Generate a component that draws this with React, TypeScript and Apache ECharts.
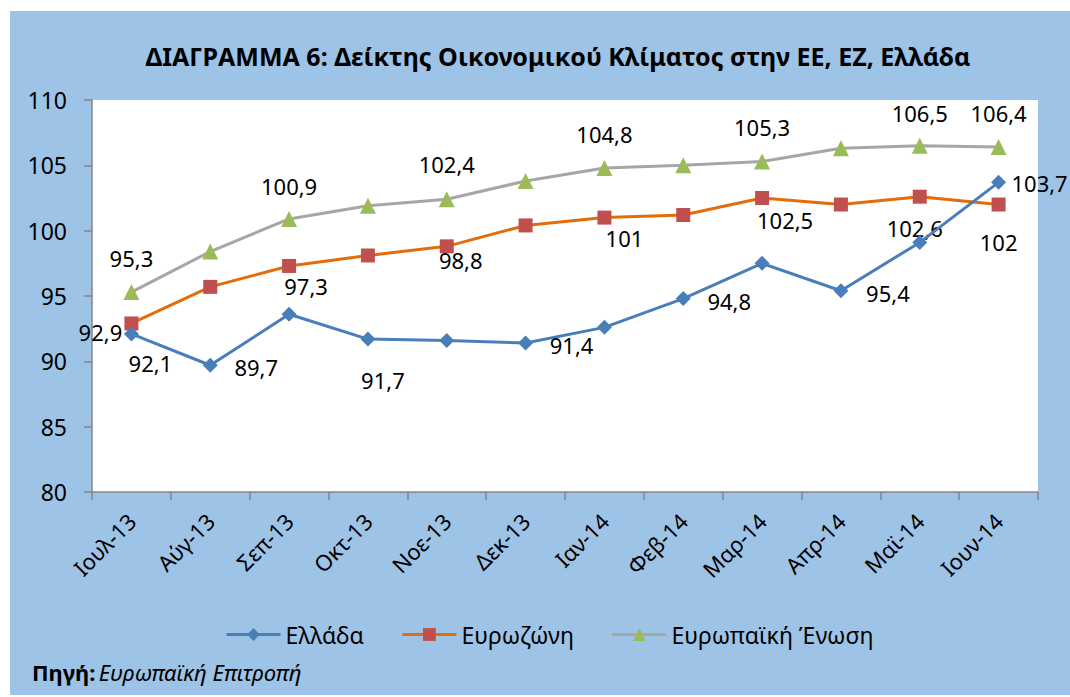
import React, { useEffect, useRef } from 'react';
import * as echarts from 'echarts';

const categories = ['Ιουλ-13', 'Αύγ-13', 'Σεπ-13', 'Οκτ-13', 'Νοε-13', 'Δεκ-13', 'Ιαν-14', 'Φεβ-14', 'Μαρ-14', 'Απρ-14', 'Μαϊ-14', 'Ιουν-14'];

const greece = [92.1, 89.7, 93.6, 91.7, 91.6, 91.4, 92.6, 94.8, 97.5, 95.4, 99.1, 103.7];
const eurozone = [92.9, 95.7, 97.3, 98.1, 98.8, 100.4, 101, 101.2, 102.5, 102.0, 102.6, 102];
const eu = [95.3, 98.4, 100.9, 101.9, 102.4, 103.8, 104.8, 105.0, 105.3, 106.3, 106.5, 106.4];

const yTicks = { min: 80, max: 110, interval: 5 };

// label offsets (label centre relative to marker), null = no label
const greeceLabelOffsets: (number[] | null)[] = [[19, 29], [46, 2], null, [15, 41], null, [46, 2], null, [46, 2], null, [47, 2], null, [41, 1]];
const eurozoneLabelOffsets: (number[] | null)[] = [[-31, 9], null, [17, 20], null, [14, 14], null, [20, 20], null, [23, 22], null, [-5, 31], [0, 37]];
const euLabelOffsets: (number[] | null)[] = [[0, -34], null, [0, -33], null, [0, -35], null, [0, -34], null, [0, -34], null, [0, -33], [0, -34]];

const FONT = 'Noto Sans';

function buildData(values: number[], offsets: (number[] | null)[]) {
  return values.map((v, i) => {
    const off = offsets[i];
    return {
      value: v,
      label: off
        ? { show: true, position: 'inside', offset: off, align: 'center', verticalAlign: 'middle' }
        : { show: false },
    };
  });
}

const labelBase = {
  color: '#000',
  fontSize: 22,
  fontFamily: FONT,
  formatter: (p: any) => String(p.value).replace('.', ','),
};

export default function App() {
  const ref = useRef<HTMLDivElement>(null);
  useEffect(() => {
    const chart = echarts.init(ref.current!, null, { renderer: 'svg' });
    chart.setOption({
      animation: false,
      backgroundColor: '#ffffff',
      textStyle: { fontFamily: FONT },
      title: {
        text: 'ΔΙΑΓΡΑΜΜΑ 6: Δείκτης Οικονομικού Κλίματος στην ΕΕ, ΕΖ, Ελλάδα',
        left: 553,
        top: 38,
        textAlign: 'center',
        textStyle: { fontFamily: FONT, fontWeight: 'bold', fontSize: 25, color: '#000' },
      },
      graphic: [
        {
          type: 'rect',
          z: -100,
          silent: true,
          shape: { x: 10, y: 11, width: 1060, height: 684 },
          style: { fill: '#9DC3E6' },
        },
        {
          type: 'text',
          x: 32,
          y: 672,
          style: {
            text: '{b|Πηγή:} {i|Ευρωπαϊκή Επιτροπή}',
            verticalAlign: 'middle',
            rich: {
              b: { fontFamily: FONT, fontWeight: 'bold', fontSize: 22, fill: '#000' },
              i: { fontFamily: FONT, fontStyle: 'italic', fontSize: 22, fill: '#000' },
            },
          },
        },
      ],
      legend: {
        left: 220,
        top: 618,
        itemWidth: 54,
        itemHeight: 16,
        itemGap: 37,
        textStyle: { fontFamily: FONT, fontSize: 23, color: '#000' },
        lineStyle: { width: 3 },
        data: ['Ελλάδα', 'Ευρωζώνη', 'Ευρωπαϊκή Ένωση'],
      },
      grid: {
        left: 92,
        top: 100,
        right: 32,
        bottom: 205,
        show: true,
        backgroundColor: '#ffffff',
        borderWidth: 0,
      },
      xAxis: {
        type: 'category',
        data: categories,
        boundaryGap: true,
        axisLine: { lineStyle: { color: '#868686', width: 1.5 } },
        axisTick: { show: true, length: 8, lineStyle: { color: '#868686', width: 1.5 } },
        axisLabel: {
          rotate: 45,
          fontSize: 22,
          color: '#000',
          margin: 25,
          padding: [28, 0, 0, 0],
          fontFamily: FONT,
          interval: 0,
        },
        splitLine: { show: false },
      },
      yAxis: {
        type: 'value',
        min: yTicks.min,
        max: yTicks.max,
        interval: yTicks.interval,
        axisLine: { show: true, lineStyle: { color: '#868686', width: 1.5 } },
        axisTick: { show: true, length: 8, lineStyle: { color: '#868686', width: 1.5 } },
        axisLabel: { fontSize: 23, color: '#000', margin: 25, fontFamily: FONT },
        splitLine: { show: false },
      },
      series: [
        {
          name: 'Ελλάδα',
          type: 'line',
          data: buildData(greece, greeceLabelOffsets),
          symbol: 'diamond',
          symbolSize: 15,
          lineStyle: { color: '#4A7EBB', width: 3 },
          itemStyle: { color: '#4A7EBB' },
          label: labelBase,
          z: 4,
        },
        {
          name: 'Ευρωζώνη',
          type: 'line',
          data: buildData(eurozone, eurozoneLabelOffsets),
          symbol: 'rect',
          symbolSize: 14,
          lineStyle: { color: '#E46C0A', width: 3 },
          itemStyle: { color: '#C0504D' },
          label: labelBase,
          z: 3,
        },
        {
          name: 'Ευρωπαϊκή Ένωση',
          type: 'line',
          data: buildData(eu, euLabelOffsets),
          symbol: 'triangle',
          symbolSize: 16,
          lineStyle: { color: '#A6A6A6', width: 3 },
          itemStyle: { color: '#9BBB59' },
          label: labelBase,
          z: 2,
        },
      ],
    });
    return () => chart.dispose();
  }, []);
  return <div ref={ref} style={{ position: 'fixed', left: 0, top: 0, width: 1070, height: 697 }} />;
}
